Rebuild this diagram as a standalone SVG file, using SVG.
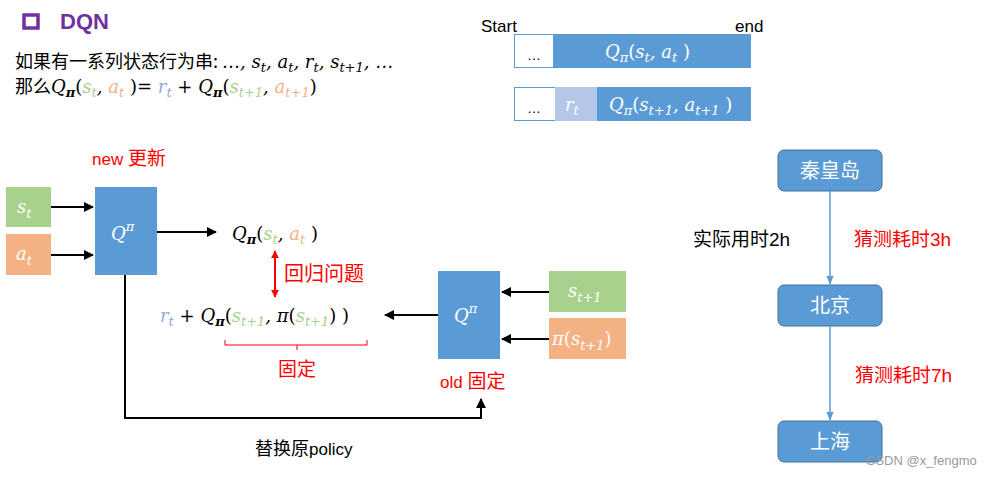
<svg xmlns="http://www.w3.org/2000/svg" width="991" height="477" viewBox="0 0 991 477">
<style>
.cn{font-family:"Noto Sans CJK SC","Noto Sans",sans-serif;font-size:18px;fill:#000}
.sans{font-family:"Liberation Sans","Noto Sans CJK SC",sans-serif;}
.m{font-family:"DejaVu Serif","Liberation Serif",serif;font-style:italic;font-size:18px}
.sub{font-size:13px}
.red{fill:#FF0000}
.w{fill:#FFFFFF}
.g{fill:#A9D18E}
.o{fill:#F4B183}
.lb{fill:#8FAADC}
.blue{fill:#5B9BD5}
.line{stroke:#000;stroke-width:2;fill:none}
.bl{stroke:#5B9BD5;stroke-width:1.5;fill:none}
.node{fill:#5B9BD5;stroke:#41719C;stroke-width:1}
</style>
<defs>
<marker id="ah" viewBox="0 0 10 10" refX="9" refY="5" markerWidth="5" markerHeight="5" orient="auto-start-reverse"><path d="M0,0 L10,5 L0,10 z" fill="#000"/></marker>
<marker id="ahr" viewBox="0 0 10 10" refX="9" refY="5" markerWidth="4" markerHeight="4" orient="auto-start-reverse"><path d="M0,0 L10,5 L0,10 z" fill="#FF0000"/></marker>
<marker id="ahb" viewBox="0 0 10 10" refX="9" refY="5" markerWidth="6" markerHeight="6" orient="auto-start-reverse"><path d="M0,1 L10,5 L0,9 z" fill="#5B9BD5"/></marker>
</defs>
<rect width="991" height="477" fill="#FFFFFF"/>

<g id="title">
<rect x="24" y="15" width="14" height="13" fill="none" stroke="#7030A0" stroke-width="3.5"/>
<text x="60" y="29" class="sans" font-size="22" font-weight="bold" fill="#7030A0">DQN</text>
</g>

<g id="formula1">
<text x="15" y="68" class="cn">如果有一系列状态行为串: <tspan class="m">…, s<tspan class="sub" dy="4">t</tspan><tspan dy="-4">, a</tspan><tspan class="sub" dy="4">t</tspan><tspan dy="-4">, r</tspan><tspan class="sub" dy="4">t</tspan><tspan dy="-4">, s</tspan><tspan class="sub" dy="4">t+1</tspan><tspan dy="-4">, …</tspan></tspan></text>
</g>
<g id="formula2">
<text x="15" y="93" class="cn">那么<tspan class="m">Q<tspan class="sub" dy="4" font-weight="bold">π</tspan><tspan dy="-4" font-style="normal">(</tspan><tspan class="g">s</tspan><tspan class="sub g" dy="4">t</tspan><tspan dy="-4">, </tspan><tspan class="o">a</tspan><tspan class="sub o" dy="4">t</tspan><tspan dy="-4" font-style="normal"> )=</tspan> <tspan class="lb">r</tspan><tspan class="sub lb" dy="4">t</tspan><tspan dy="-4" font-style="normal"> + </tspan>Q<tspan class="sub" dy="4" font-weight="bold">π</tspan><tspan dy="-4" font-style="normal">(</tspan><tspan class="g">s</tspan><tspan class="sub g" dy="4">t+1</tspan><tspan dy="-4">, </tspan><tspan class="o">a</tspan><tspan class="sub o" dy="4">t+1</tspan><tspan dy="-4" font-style="normal">)</tspan></tspan></text>
</g>

<g id="timeline">
<text x="481" y="32" class="sans" font-size="17">Start</text>
<text x="735" y="32" class="sans" font-size="17">end</text>
<rect x="514.5" y="34.5" width="236" height="33" fill="#FFFFFF" stroke="#5B9BD5" stroke-width="1"/>
<rect x="553" y="34" width="198" height="34" class="blue"/>
<text x="527" y="60" class="sans" font-size="14">…</text>
<text x="605" y="58" class="m w">Q<tspan class="sub" dy="4">π</tspan><tspan dy="-4" font-style="normal">(</tspan>s<tspan class="sub" dy="4">t</tspan><tspan dy="-4">, a</tspan><tspan class="sub" dy="4">t</tspan><tspan dy="-4" font-style="normal"> )</tspan></text>
<rect x="514.5" y="87.5" width="236" height="33" fill="#FFFFFF" stroke="#5B9BD5" stroke-width="1"/>
<rect x="555" y="87" width="42" height="34" fill="#B4C7E7"/>
<rect x="597" y="87" width="154" height="34" class="blue"/>
<text x="527" y="113" class="sans" font-size="14">…</text>
<text x="565" y="111" class="m w">r<tspan class="sub" dy="4">t</tspan></text>
<text x="609" y="111" class="m w">Q<tspan class="sub" dy="4">π</tspan><tspan dy="-4" font-style="normal">(</tspan>s<tspan class="sub" dy="4">t+1</tspan><tspan dy="-4">, a</tspan><tspan class="sub" dy="4">t+1</tspan><tspan dy="-4" font-style="normal"> )</tspan></text>
</g>

<g id="new-label"><text x="92" y="165" class="sans red" font-size="17">new <tspan class="cn red" style="font-size:19px">更新</tspan></text></g>

<g id="st"><rect x="6" y="187" width="45" height="40" fill="#A9D18E"/><text x="17" y="213" class="m w">s<tspan class="sub" dy="5">t</tspan></text></g>
<g id="at"><rect x="6" y="234" width="45" height="41" fill="#F4B183"/><text x="16" y="260" class="m w">a<tspan class="sub" dy="5">t</tspan></text></g>
<g id="q-new"><rect x="95" y="187" width="62" height="88" class="blue"/><text x="111" y="240" class="m w">Q<tspan class="sub" dy="-9">π</tspan></text></g>

<g id="q-out"><text x="232" y="240" class="m">Q<tspan class="sub" dy="4" font-weight="bold">π</tspan><tspan dy="-4" font-style="normal">(</tspan><tspan class="g">s</tspan><tspan class="sub g" dy="4">t</tspan><tspan dy="-4">, </tspan><tspan class="o">a</tspan><tspan class="sub o" dy="4">t</tspan><tspan dy="-4" font-style="normal"> )</tspan></text></g>

<g id="target"><text x="160" y="322" class="m"><tspan class="lb">r</tspan><tspan class="sub lb" dy="4">t</tspan><tspan dy="-4" font-style="normal"> + </tspan>Q<tspan class="sub" dy="4" font-weight="bold">π</tspan><tspan dy="-4" font-style="normal">(</tspan><tspan class="g">s</tspan><tspan class="sub g" dy="4">t+1</tspan><tspan dy="-4">, π</tspan><tspan font-style="normal">(</tspan><tspan class="g">s</tspan><tspan class="sub g" dy="4">t+1</tspan><tspan dy="-4" font-style="normal">) )</tspan></text></g>

<g id="regression-label"><text x="284" y="281" class="cn red" style="font-size:20px">回归问题</text></g>
<g id="fixed-bracket">
<path d="M225,340 L225,345 L367,345 L367,340 M297,345 L297,350" stroke="#FF0000" stroke-width="1" fill="none"/>
<text x="278" y="376" class="cn red" style="font-size:19px">固定</text>
</g>

<g id="q-old"><rect x="438" y="271" width="62" height="88" class="blue"/><text x="454" y="322" class="m w">Q<tspan class="sub" dy="-9">π</tspan></text></g>
<g id="old-label"><text x="440" y="388" class="sans red" font-size="17">old <tspan class="cn red" style="font-size:19px">固定</tspan></text></g>
<g id="st1"><rect x="549" y="271" width="77" height="41" fill="#A9D18E"/><text x="568" y="297" class="m w">s<tspan class="sub" dy="5">t+1</tspan></text></g>
<g id="pist1"><rect x="549" y="318" width="77" height="41" fill="#F4B183"/><text x="552" y="345" class="m w">π<tspan font-style="normal">(</tspan>s<tspan class="sub" dy="5">t+1</tspan><tspan dy="-5" font-style="normal">)</tspan></text></g>

<g id="replace-label"><text x="255" y="455" class="cn">替换原<tspan class="sans" font-size="17">policy</tspan></text></g>

<g id="n-qhd"><rect x="778" y="150" width="104" height="41" rx="6" class="node"/><text x="830" y="178" class="cn w" style="font-size:20px" text-anchor="middle">秦皇岛</text></g>
<g id="n-bj"><rect x="778" y="285" width="104" height="41" rx="6" class="node"/><text x="830" y="313" class="cn w" style="font-size:20px" text-anchor="middle">北京</text></g>
<g id="n-sh"><rect x="778" y="421" width="104" height="41" rx="6" class="node"/><text x="830" y="449" class="cn w" style="font-size:20px" text-anchor="middle">上海</text></g>
<g id="flow-labels">
<text x="693" y="246" class="cn" style="font-size:19px">实际用时<tspan class="sans">2h</tspan></text>
<text x="854" y="246" class="cn red" style="font-size:19px">猜测耗时<tspan class="sans">3h</tspan></text>
<text x="855" y="382" class="cn red" style="font-size:19px">猜测耗时<tspan class="sans">7h</tspan></text>
</g>

<g id="connectors">
<line x1="51" y1="207" x2="93" y2="207" class="line" marker-end="url(#ah)"/>
<line x1="51" y1="255" x2="93" y2="255" class="line" marker-end="url(#ah)"/>
<line x1="157" y1="232" x2="216" y2="232" class="line" marker-end="url(#ah)"/>
<line x1="275" y1="251" x2="275" y2="297" stroke="#FF0000" stroke-width="2" marker-start="url(#ahr)" marker-end="url(#ahr)"/>
<line x1="438" y1="315" x2="385" y2="315" class="line" marker-end="url(#ah)"/>
<line x1="549" y1="292" x2="502" y2="292" class="line" marker-end="url(#ah)"/>
<line x1="549" y1="339" x2="502" y2="339" class="line" marker-end="url(#ah)"/>
<polyline points="125,275 125,418 481,418 481,399" class="line" marker-end="url(#ah)"/>
<line x1="830" y1="191" x2="830" y2="284" class="bl" marker-end="url(#ahb)"/>
<line x1="830" y1="326" x2="830" y2="420" class="bl" marker-end="url(#ahb)"/>
</g>

<g id="watermark"><text x="866" y="465" class="sans" font-size="13" fill="#9A9A9A">CSDN @x_fengmo</text></g>
</svg>
